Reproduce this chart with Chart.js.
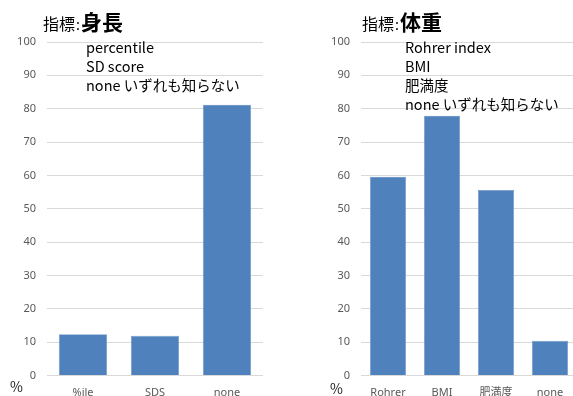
<!DOCTYPE html>
<html>
<head>
<meta charset="utf-8">
<script src="https://cdn.jsdelivr.net/npm/chart.js@4/dist/chart.umd.min.js"></script>
<style>
  html, body { margin: 0; padding: 0; background: #fff; }
  body { width: 573px; height: 396px; overflow: hidden; position: relative;
         font-family: "Noto Sans", "Noto Sans CJK JP", sans-serif; }
  .box { position: absolute; top: 0; width: 290px; height: 396px; }
  .box canvas { position: absolute; left: 0; top: 0; }
  .title { position: absolute; top: 6px; white-space: nowrap; color: #000;
           font-family: "Noto Sans CJK JP", sans-serif; }
  .title .k { font-size: 16px; }
  .title .c { font-size: 14px; margin: 0 1px; }
  .title .m { font-size: 21px; font-weight: bold; }
  .notes { position: absolute; top: 37px; font-size: 14.5px; line-height: 19px;
           color: #000; white-space: nowrap;
           font-family: "Noto Sans CJK JP", sans-serif; }
  .pct { position: absolute; font-size: 14px; color: #222;
         font-family: "Noto Sans CJK JP", sans-serif; }
</style>
</head>
<body>
<div class="box" id="boxA" style="left:0px">
  <canvas id="chartA" width="290" height="396"></canvas>
  <div class="title" style="left:43px"><span class="k">指標</span><span class="c">:</span><span class="m">身長</span></div>
  <div class="notes" style="left:86px">percentile<br>SD score<br>none いずれも知らない</div>
  <div class="pct" style="left:10px; top:376px">%</div>
</div>
<div class="box" id="boxB" style="left:314px">
  <canvas id="chartB" width="290" height="396"></canvas>
  <div class="title" style="left:48px"><span class="k">指標</span><span class="c">:</span><span class="m">体重</span></div>
  <div class="notes" style="left:91px">Rohrer index<br>BMI<br>肥満度<br>none いずれも知らない</div>
  <div class="pct" style="left:16px; top:378px">%</div>
</div>
<script>
// Height indices (%)
const heightCategories = ['%ile', 'SDS', 'none'];
const heightValues = [12.4, 11.9, 81.2];

// Weight indices (%)
const weightCategories = ['Rohrer', 'BMI', '肥満度', 'none'];
const weightValues = [59.6, 77.9, 55.6, 10.4];

const yTicks = [0, 10, 20, 30, 40, 50, 60, 70, 80, 90, 100];

const barColor = '#4f81bd';

function makeChart(id, labels, values) {
  return new Chart(document.getElementById(id), {
    type: 'bar',
    data: {
      labels: labels,
      datasets: [{
        data: values,
        backgroundColor: barColor,
        borderColor: '#6f97c9',
        borderWidth: 0.6,
        categoryPercentage: 0.67,
        barPercentage: 1.0
      }]
    },
    options: {
      responsive: false,
      animation: false,
      events: [],
      layout: { padding: { top: 42, right: 27, left: 0, bottom: 0 } },
      plugins: { legend: { display: false }, tooltip: { enabled: false } },
      scales: {
        x: {
          grid: { display: false, drawTicks: false },
          border: { display: false },
          ticks: {
            color: '#595959',
            padding: 11,
            font: { family: '"Noto Sans", "Noto Sans CJK JP", sans-serif', size: 11 }
          },
          afterFit: (s) => { s.height = 20.5; }
        },
        y: {
          min: 0,
          max: 100,
          afterBuildTicks: (s) => { s.ticks = yTicks.map(v => ({ value: v })); },
          grid: { color: '#d9d9d9', lineWidth: 1, drawTicks: false },
          border: { display: false },
          ticks: {
            color: '#595959',
            padding: 11,
            font: { family: '"Noto Sans", "Noto Sans CJK JP", sans-serif', size: 11 }
          },
          afterFit: (s) => { s.width = 47; }
        }
      }
    }
  });
}

makeChart('chartA', heightCategories, heightValues);
makeChart('chartB', weightCategories, weightValues);
</script>
</body>
</html>
